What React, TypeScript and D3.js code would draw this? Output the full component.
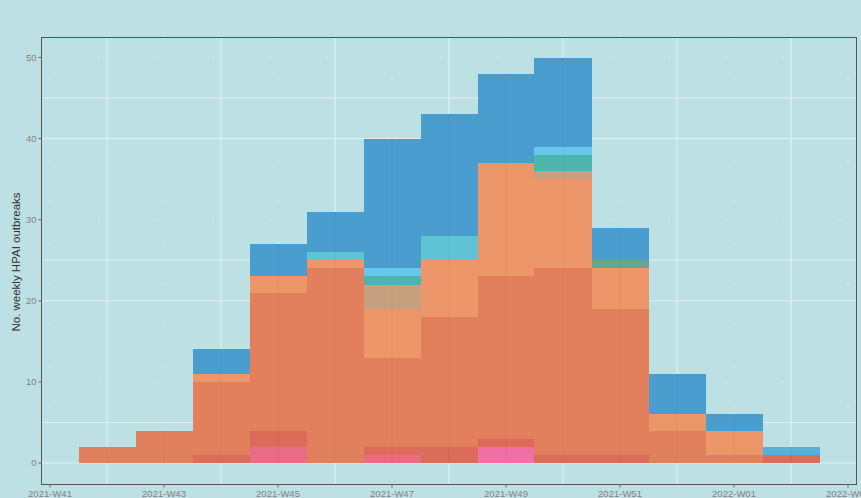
import React, { useRef, useEffect } from "react";
import * as d3 from "d3";

// week labels on the x axis (index 0 = 2021-W41)
const tickLabels = ["2021-W41", "2021-W43", "2021-W45", "2021-W47", "2021-W49", "2021-W51", "2022-W01", "2022-W03"];
const tickIdx = [0, 2, 4, 6, 8, 10, 12, 14];
const weekIdx = [1, 2, 3, 4, 5, 6, 7, 8, 9, 10, 11, 12, 13]; // W42 .. 2022-W02

// stacked counts per week, bottom to top
const pinkA = [0, 0, 0, 2, 0, 1, 0, 0, 0, 0, 0, 0, 0];
const pinkB = [0, 0, 0, 0, 0, 0, 0, 2, 0, 0, 0, 0, 0];
const red = [0, 0, 1, 2, 0, 1, 2, 1, 1, 1, 0, 0, 1];
const darkOrange = [2, 4, 9, 17, 24, 11, 16, 20, 23, 18, 4, 1, 0];
const lightOrange = [0, 0, 1, 2, 1, 6, 7, 14, 11, 5, 2, 3, 0];
const tan = [0, 0, 0, 0, 0, 3, 0, 0, 1, 0, 0, 0, 0];
const green = [0, 0, 0, 0, 0, 0, 0, 0, 0, 1, 0, 0, 0];
const teal = [0, 0, 0, 0, 0, 1, 0, 0, 2, 0, 0, 0, 0];
const cyan = [0, 0, 0, 0, 1, 0, 3, 0, 0, 0, 0, 0, 0];
const sky = [0, 0, 0, 0, 0, 1, 0, 0, 1, 0, 0, 0, 0];
const blue = [0, 0, 3, 4, 5, 16, 15, 11, 11, 4, 5, 2, 0];
const blueLight = [0, 0, 0, 0, 0, 0, 0, 0, 0, 0, 0, 0, 1];

const series = [
  { values: pinkA, color: "#e96b84" },
  { values: pinkB, color: "#f070a5" },
  { values: red, color: "#dc6b5a" },
  { values: darkOrange, color: "#e2805e" },
  { values: lightOrange, color: "#ec9669" },
  { values: tan, color: "#c5a17f" },
  { values: green, color: "#6aa58f" },
  { values: teal, color: "#4cb6ae" },
  { values: cyan, color: "#60c4d6" },
  { values: sky, color: "#68c7ed" },
  { values: blue, color: "#4a9ecf" },
  { values: blueLight, color: "#58aee0" },
];

const W = 861;
const H = 498;
const BG = "#bde0e4";

const App = () => {
  const svgRef = useRef(null);

  useEffect(() => {
    const svg = d3.select(svgRef.current);
    svg.selectAll("*").remove();

    const left = 41.5, right = 856.5, top = 37.5, bottom = 484.5;
    const x = d3.scaleLinear().domain([0, 14]).range([50, 848]);
    const y = d3.scaleLinear().domain([0, 50]).range([463, 57.5]);

    svg.append("rect").attr("width", W).attr("height", H).attr("fill", BG);

    // grid
    const g = svg.append("g");
    [0, 5, 20, 25, 40, 45].forEach((v) => {
      g.append("line").attr("x1", left).attr("x2", right)
        .attr("y1", y(v)).attr("y2", y(v))
        .attr("stroke", "#e2f0f2").attr("stroke-width", 1.1);
    });
    [10, 30, 50].forEach((v) => {
      g.append("line").attr("x1", left).attr("x2", right)
        .attr("y1", y(v)).attr("y2", y(v))
        .attr("stroke", "#e4f1f3").attr("stroke-width", 1)
        .attr("stroke-dasharray", "1,56");
    });
    [1, 3, 5, 7, 9, 11, 13].forEach((i) => {
      g.append("line").attr("x1", x(i)).attr("x2", x(i))
        .attr("y1", top).attr("y2", bottom)
        .attr("stroke", "#e2f0f2").attr("stroke-width", 1.1);
    });
    tickIdx.forEach((i) => {
      g.append("line").attr("x1", x(i)).attr("x2", x(i))
        .attr("y1", top).attr("y2", bottom)
        .attr("stroke", "#e4f1f3").attr("stroke-width", 1)
        .attr("stroke-dasharray", "1,40");
    });

    // stacked bars
    const rows = weekIdx.map((w, j) => {
      const r: any = { w };
      series.forEach((s, k) => (r["s" + k] = s.values[j]));
      return r;
    });
    const keys = series.map((_, k) => "s" + k);
    const stack = d3.stack().keys(keys)(rows);
    stack.forEach((layer, k) => {
      svg.append("g")
        .attr("shape-rendering", "crispEdges")
        .selectAll("rect")
        .data(layer.filter((d) => d[1] > d[0]))
        .enter()
        .append("rect")
        .attr("x", (d) => Math.round(x(d.data.w - 0.5)))
        .attr("width", (d) => Math.round(x(d.data.w + 0.5)) - Math.round(x(d.data.w - 0.5)))
        .attr("y", (d) => Math.round(y(d[1])))
        .attr("height", (d) => Math.round(y(d[0])) - Math.round(y(d[1])))
        .attr("fill", series[k].color);
    });

    // faint grid showing through the bars
    const topLayer = stack[stack.length - 1];
    svg.append("g").attr("stroke", "#000").attr("stroke-opacity", 0.04)
      .selectAll("line")
      .data(topLayer)
      .enter()
      .append("line")
      .attr("x1", (d) => x(d.data.w)).attr("x2", (d) => x(d.data.w))
      .attr("y1", (d) => y(d[1])).attr("y2", y(0));

    // panel border
    svg.append("rect").attr("x", left).attr("y", top)
      .attr("width", right - left).attr("height", bottom - top)
      .attr("fill", "none").attr("stroke", "#555").attr("stroke-width", 1);

    // y axis ticks
    const tc = "#8a8080";
    [0, 10, 20, 30, 40, 50].forEach((v) => {
      svg.append("line").attr("x1", left - 3).attr("x2", left)
        .attr("y1", y(v)).attr("y2", y(v)).attr("stroke", "#666");
      svg.append("text").attr("x", left - 5).attr("y", y(v) + 3.2)
        .attr("text-anchor", "end").attr("font-size", 9.5)
        .attr("font-family", "Liberation Sans, Arial, sans-serif")
        .attr("fill", tc).text(v);
    });

    // x axis ticks
    tickIdx.forEach((i, k) => {
      svg.append("line").attr("x1", x(i)).attr("x2", x(i))
        .attr("y1", bottom).attr("y2", bottom + 3).attr("stroke", "#666");
      svg.append("text").attr("x", x(i)).attr("y", bottom + 12.5)
        .attr("text-anchor", "middle").attr("font-size", 9.5)
        .attr("font-family", "Liberation Sans, Arial, sans-serif")
        .attr("fill", tc).text(tickLabels[k]);
    });

    // y title
    svg.append("text")
      .attr("transform", `translate(20, 262) rotate(-90)`)
      .attr("text-anchor", "middle").attr("font-size", 11.5)
      .attr("font-family", "Liberation Sans, Arial, sans-serif")
      .attr("fill", "#333").text("No. weekly HPAI outbreaks");
  }, []);

  return (
    <div style={{ position: "absolute", left: 0, top: 0 }}>
      <svg ref={svgRef} width={W} height={H} style={{ display: "block" }}></svg>
    </div>
  );
};

export default App;
